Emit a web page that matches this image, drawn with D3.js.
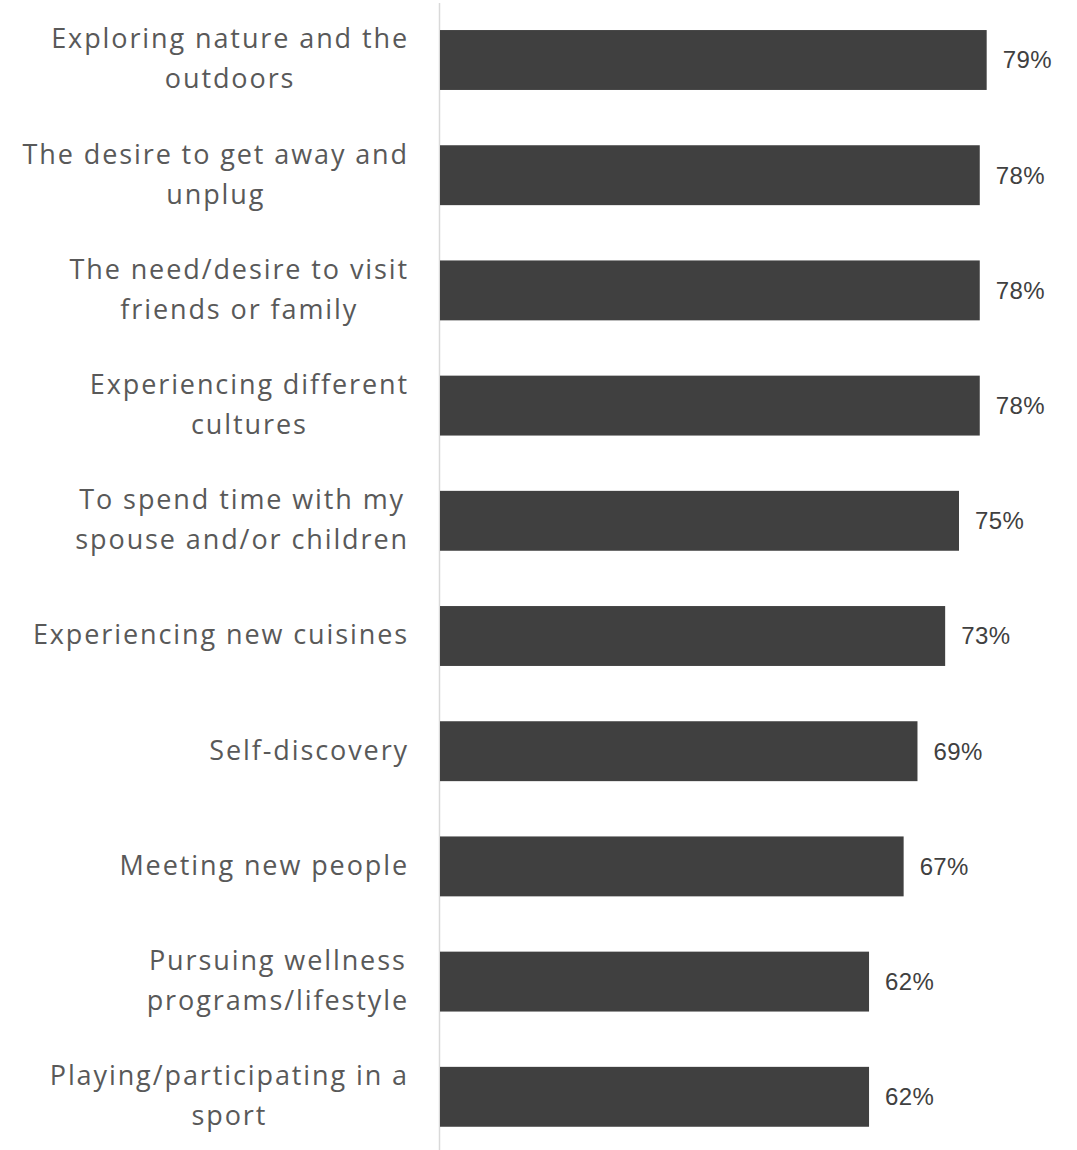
<!DOCTYPE html>
<html>
<head>
<meta charset="utf-8">
<script src="https://cdn.jsdelivr.net/npm/d3@7"></script>
<style>
  body { margin: 0; background: #fff; }
</style>
</head>
<body>
<script>
const categories = [
  ['Exploring nature and the', 'outdoors'],
  ['The desire to get away and', 'unplug'],
  ['The need/desire to visit', 'friends or family'],
  ['Experiencing different', 'cultures'],
  ['To spend time with my', 'spouse and/or children'],
  ['Experiencing new cuisines'],
  ['Self-discovery'],
  ['Meeting new people'],
  ['Pursuing wellness', 'programs/lifestyle'],
  ['Playing/participating in a', 'sport']
];
const values = [79, 78, 78, 78, 75, 73, 69, 67, 62, 62];

const W = 1077, H = 1150;
const axisX = 439.5, labelRight = 409;

const svg = d3.select('body').append('svg')
  .attr('width', W).attr('height', H);

const y = d3.scaleBand()
  .domain(d3.range(values.length))
  .range([2.4, 1154.4])
  .paddingInner(0.48)
  .paddingOuter(0.24);

const x = d3.scaleLinear().domain([0, 100]).range([440, 1132]);

// axis line
svg.append('line')
  .attr('x1', axisX).attr('x2', axisX)
  .attr('y1', 3).attr('y2', 1150)
  .attr('stroke', '#d9d9d9').attr('stroke-width', 1.5);

// bars
svg.selectAll('rect.bar')
  .data(values)
  .enter().append('rect')
  .attr('class', 'bar')
  .attr('x', x(0))
  .attr('y', (d, i) => y(i))
  .attr('width', d => x(d) - x(0))
  .attr('height', y.bandwidth())
  .attr('fill', '#404040');

// value labels
svg.selectAll('text.val')
  .data(values)
  .enter().append('text')
  .attr('class', 'val')
  .attr('x', d => x(d) + 16)
  .attr('y', (d, i) => y(i) + y.bandwidth() / 2)
  .attr('dy', '0.35em')
  .attr('font-family', 'Liberation Sans, Arial, sans-serif')
  .attr('font-size', 24)
  .attr('letter-spacing', 0.4)
  .attr('fill', '#404040')
  .text(d => d + '%');

// category labels: lines centered on their longest line, block right-aligned
const lineH = 40;
categories.forEach((lines, i) => {
  const cy = y(i) + y.bandwidth() / 2;
  const g = svg.append('g');
  const texts = lines.map((t, j) => g.append('text')
    .attr('y', cy + (j - (lines.length - 1) / 2) * lineH - 1)
    .attr('dy', '0.35em')
    .attr('font-family', 'Open Sans, sans-serif')
    .attr('font-size', 27)
    .attr('letter-spacing', 1.9)
    .attr('fill', '#595959')
    .attr('text-anchor', 'middle')
    .text(t));
  const maxW = d3.max(texts, t => t.node().getComputedTextLength());
  texts.forEach(t => t.attr('x', labelRight - maxW / 2));
});
</script>
</body>
</html>
